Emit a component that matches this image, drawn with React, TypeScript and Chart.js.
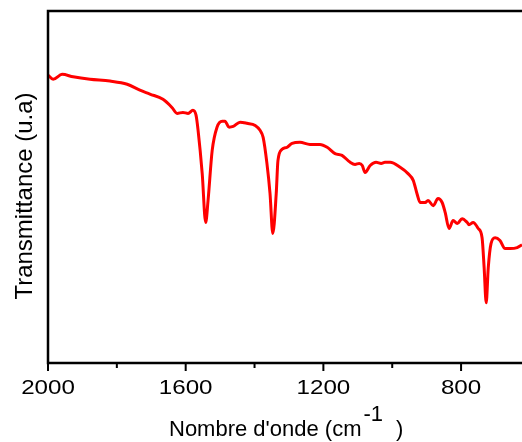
import { useEffect, useRef } from 'react';
import { Chart, registerables } from 'chart.js';

Chart.register(...registerables);

const wavenumbers = [2000, 1985, 1959, 1927, 1878, 1820, 1770, 1733, 1704, 1666, 1640, 1625, 1608, 1593, 1579, 1570, 1564, 1552, 1542, 1535, 1523, 1509, 1494, 1486, 1474, 1462, 1442, 1422, 1398, 1384, 1375, 1364, 1355, 1347, 1337, 1332, 1320, 1305, 1291, 1268, 1239, 1210, 1189, 1166, 1146, 1122, 1108, 1096, 1087, 1079, 1064, 1047, 1032, 1021, 1006, 977, 954, 939, 928, 919, 904, 896, 881, 867, 855, 846, 835, 823, 811, 797, 782, 777, 765, 750, 739, 733, 727, 721, 713, 701, 687, 672, 657, 637, 623];
const transmittance = [81.8, 80.6, 82.0, 81.3, 80.6, 80.1, 79.2, 77.5, 76.4, 74.9, 72.6, 70.9, 71.2, 70.9, 71.8, 70.4, 66.1, 53.8, 39.9, 46.2, 60.4, 67.0, 68.7, 68.7, 67.0, 67.2, 68.4, 68.1, 67.5, 66.1, 64.1, 56.7, 48.1, 36.8, 48.1, 57.5, 60.7, 61.3, 62.4, 62.7, 62.1, 62.1, 61.3, 59.5, 59.0, 57.0, 56.4, 56.7, 56.1, 54.1, 56.1, 57.0, 56.7, 57.0, 57.0, 55.6, 53.8, 51.9, 48.1, 45.6, 45.6, 46.2, 44.7, 46.7, 45.6, 42.7, 38.2, 40.5, 39.6, 41.0, 39.9, 39.3, 39.9, 38.2, 35.6, 27.1, 17.1, 27.1, 33.9, 35.6, 34.8, 32.5, 32.5, 32.8, 33.6];

const majorTicks = [2000, 1600, 1200, 800];
const minorTicks = [1800, 1400, 1000];
const xMin = 623;
const xMax = 2000;
const xTitleMain = "Nombre d'onde (cm";
const xTitleSup = '-1';
const xTitleEnd = ')';
const yTitle = 'Transmittance (u.a)';
const FONT = '"Liberation Sans", Arial, sans-serif';

export default function App() {
  const ref = useRef<HTMLCanvasElement>(null);

  useEffect(() => {
    if (!ref.current) return;
    const framePlugin = {
      id: 'frame',
      afterDatasetsDraw(chart: any) {
        const { ctx, chartArea: a, scales } = chart;
        const xs = scales.x;
        ctx.save();
        ctx.strokeStyle = '#000';
        ctx.lineWidth = 2.5;
        ctx.beginPath();
        ctx.moveTo(a.left - 1.25, a.top);
        ctx.lineTo(chart.width, a.top);
        ctx.moveTo(a.left - 1.25, a.bottom);
        ctx.lineTo(chart.width, a.bottom);
        ctx.moveTo(a.left, a.top);
        ctx.lineTo(a.left, a.bottom);
        ctx.stroke();

        ctx.lineWidth = 2;
        ctx.beginPath();
        majorTicks.forEach((v) => {
          const px = xs.getPixelForValue(v);
          ctx.moveTo(px, a.bottom);
          ctx.lineTo(px, a.bottom + 8);
        });
        minorTicks.forEach((v) => {
          const px = xs.getPixelForValue(v);
          ctx.moveTo(px, a.bottom);
          ctx.lineTo(px, a.bottom + 5);
        });
        ctx.stroke();

        ctx.fillStyle = '#000';
        ctx.font = `21px ${FONT}`;
        ctx.textAlign = 'center';
        ctx.textBaseline = 'alphabetic';
        majorTicks.forEach((v) => {
          const px = xs.getPixelForValue(v);
          ctx.save();
          ctx.translate(px, 394);
          ctx.scale(1.15, 1);
          ctx.fillText(String(v), 0, 0);
          ctx.restore();
        });

        // x title with superscript
        ctx.textAlign = 'left';
        ctx.font = `22px ${FONT}`;
        const x0 = 169;
        ctx.fillText(xTitleMain, x0, 436);
        const w1 = ctx.measureText(xTitleMain).width;
        const xs1 = x0 + w1 + 2;
        ctx.font = `22px ${FONT}`;
        ctx.fillText(xTitleSup, xs1, 421);
        const w2 = ctx.measureText(xTitleSup).width;
        ctx.fillText(xTitleEnd, xs1 + w2 + 13, 436);

        // y title
        ctx.font = `24px ${FONT}`;
        ctx.textAlign = 'center';
        ctx.translate(31.5, 196);
        ctx.rotate(-Math.PI / 2);
        ctx.fillText(yTitle, 0, 0);
        ctx.restore();
      },
    };

    const chart = new Chart(ref.current, {
      type: 'line',
      data: {
        datasets: [
          {
            data: wavenumbers.map((w, i) => ({ x: w, y: transmittance[i] })),
            borderColor: '#ff0000',
            borderWidth: 3,
            pointRadius: 0,
            fill: false,
            cubicInterpolationMode: 'monotone',
          },
        ],
      },
      options: {
        responsive: true,
        maintainAspectRatio: false,
        animation: false,
        layout: { padding: { left: 48, top: 11, right: 0, bottom: 79 } },
        scales: {
          x: { type: 'linear', min: xMin, max: xMax, reverse: true, display: false },
          y: { type: 'linear', min: 0, max: 100, display: false },
        },
        plugins: { legend: { display: false }, tooltip: { enabled: false } },
      },
      plugins: [framePlugin],
    } as any);

    return () => chart.destroy();
  }, []);

  return (
    <div style={{ position: 'absolute', left: 0, top: 0, width: 522, height: 442, background: '#fff' }}>
      <canvas ref={ref} style={{ display: 'block' }} />
    </div>
  );
}
